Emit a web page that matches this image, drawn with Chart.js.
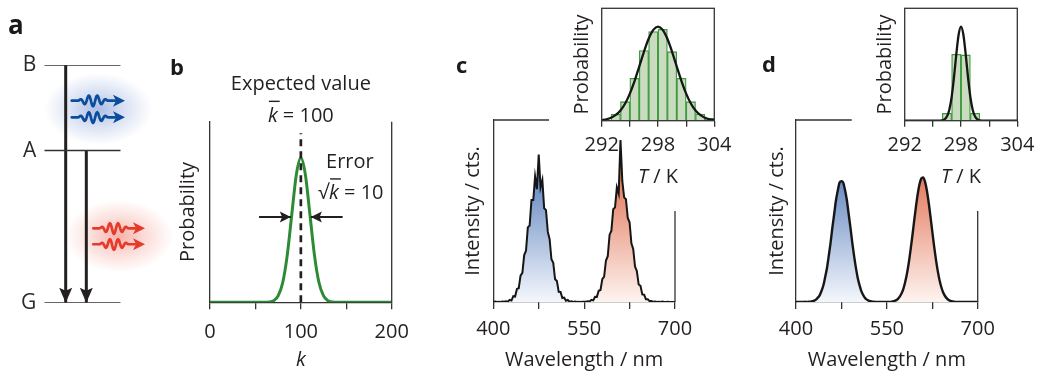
<!DOCTYPE html>
<html>
<head>
<meta charset="utf-8">
<script src="https://cdn.jsdelivr.net/npm/chart.js@4.4.0/dist/chart.umd.min.js"></script>
<style>
  html, body { margin: 0; padding: 0; background: #fff; }
  #figure { position: relative; width: 1048px; height: 377px; overflow: hidden; }
  #figure canvas { position: absolute; left: 0; top: 0; }
</style>
</head>
<body>
<div id="figure">
  <canvas id="panelA" width="1048" height="377"></canvas>
  <canvas id="panelB" width="1048" height="377"></canvas>
  <canvas id="panelC" width="1048" height="377"></canvas>
  <canvas id="insetC" width="1048" height="377"></canvas>
  <canvas id="panelD" width="1048" height="377"></canvas>
  <canvas id="insetD" width="1048" height="377"></canvas>
</div>
<script>
// ---- a: level scheme ----
const levelNames = ['G', 'A', 'B'];
const levelEnergy = [0, 0.64, 1];
const transitionX = [0.28, 0.55];
const transitionFrom = [1, 0.64];

// ---- b: Poisson distribution ----
const kValues = [0, 5, 10, 15, 20, 25, 30, 35, 40, 45, 50, 55, 60, 65, 70, 75, 80, 85, 90, 95, 100,
  105, 110, 115, 120, 125, 130, 135, 140, 145, 150, 155, 160, 165, 170, 175, 180, 185, 190, 195, 200];
const kProbability = [0, 0, 0, 0, 0, 0, 0, 0, 0, 0, 0, 0, 0, 0.002, 0.011, 0.044, 0.135, 0.325, 0.607, 0.882, 1,
  0.882, 0.607, 0.325, 0.135, 0.044, 0.011, 0.002, 0, 0, 0, 0, 0, 0, 0, 0, 0, 0, 0, 0, 0];
const kTickLabels = [0, 100, 200];
const kMean = 100;
const errorArrowLeft = [54, 89];
const errorArrowRight = [146, 111];
const errorArrowLevel = 0.59;

// ---- c, d: emission spectra (400-700 nm, 3 nm steps) ----
const wavelengths = Array.from({ length: 101 }, (_, i) => 400 + 3 * i);
const spectrumNoisy = [
  0, 0.002, 0, 0.001, 0, 0.003, 0.001,
  0.004, 0.002, 0.012, 0.008, 0.032, 0.030, 0.072, 0.076, 0.145, 0.160, 0.258, 0.282, 0.410, 0.420,
  0.560, 0.560, 0.690, 0.620, 0.810, 0.630, 0.670, 0.515, 0.505, 0.385, 0.345, 0.235, 0.215, 0.125,
  0.115, 0.056, 0.055, 0.022, 0.024, 0.007, 0.011, 0.002, 0.004,
  0, 0.002, 0, 0.001, 0, 0.001, 0.002, 0.001,
  0.004, 0.003, 0.012, 0.009, 0.029, 0.028, 0.062, 0.066, 0.126, 0.139, 0.228, 0.252, 0.370, 0.392,
  0.510, 0.520, 0.630, 0.595, 0.890, 0.665, 0.575, 0.565, 0.462, 0.438, 0.322, 0.292, 0.195, 0.170,
  0.096, 0.089, 0.042, 0.040, 0.015, 0.015, 0.005, 0.006, 0.001, 0.003,
  0, 0.001, 0, 0.002, 0, 0, 0.001, 0, 0, 0, 0
];
const spectrumSmooth = [
  0, 0, 0, 0, 0, 0.001, 0, 0.001,
  0.002, 0.004, 0.008, 0.013, 0.024, 0.036, 0.060, 0.089, 0.134, 0.184, 0.252, 0.323, 0.407, 0.482,
  0.559, 0.613, 0.657, 0.664, 0.656, 0.614, 0.559, 0.482, 0.406, 0.324, 0.251, 0.186, 0.131, 0.091,
  0.058, 0.038, 0.022, 0.013, 0.008, 0.004, 0.002, 0.001,
  0, 0, 0, 0, 0, 0, 0, 0,
  0.001, 0.003, 0.005, 0.009, 0.016, 0.028, 0.045, 0.070, 0.106, 0.152, 0.211, 0.282, 0.360, 0.443,
  0.523, 0.594, 0.648, 0.679, 0.685, 0.661, 0.614, 0.548, 0.470, 0.388, 0.307, 0.234, 0.171, 0.120,
  0.081, 0.052, 0.033, 0.020, 0.011, 0.006, 0.003, 0.002,
  0, 0, 0, 0, 0, 0, 0, 0, 0, 0, 0, 0, 0
];
const blueRedSplit = 47; // index where the blue band hands over to the red band
const wavelengthTicks = [400, 550, 700];

// ---- insets: temperature histograms ----
const tempBinsNoisy = [293.5, 294.5, 295.5, 296.5, 297.5, 298.5, 299.5, 300.5, 301.5, 302.5, 303.5];
const tempCountsNoisy = [0.067, 0.202, 0.450, 0.745, 0.947, 0.972, 0.734, 0.450, 0.202, 0.071, 0.025];
const fitTNoisy = [292, 292.5, 293, 293.5, 294, 294.5, 295, 295.5, 296, 296.5, 297, 297.5, 298,
  298.5, 299, 299.5, 300, 300.5, 301, 301.5, 302, 302.5, 303, 303.5, 304];
const fitNoisy = [0.007, 0.015, 0.031, 0.061, 0.109, 0.183, 0.288, 0.421, 0.575, 0.732, 0.871, 0.966, 1,
  0.966, 0.871, 0.732, 0.575, 0.421, 0.288, 0.183, 0.109, 0.061, 0.031, 0.015, 0.007];
const tempBinsSmooth = [296.5, 297.5, 298.5, 299.5];
const tempCountsSmooth = [0.078, 0.706, 0.699, 0.078];
const fitTSmooth = [292, 295.5, 296, 296.25, 296.5, 296.75, 297, 297.25, 297.5, 297.75, 298,
  298.25, 298.5, 298.75, 299, 299.25, 299.5, 299.75, 300, 300.5, 304];
const fitSmooth = [0, 0, 0.004, 0.014, 0.044, 0.114, 0.249, 0.458, 0.707, 0.917, 1,
  0.917, 0.707, 0.458, 0.249, 0.114, 0.044, 0.014, 0.004, 0, 0];
const tempTicks = [292, 298, 304];

const ink = '#231f20';
const axisInk = '#333333';
const FONT = '"Open Sans", "Liberation Sans", sans-serif';
Chart.defaults.font.family = FONT;
Chart.defaults.font.size = 20;
Chart.defaults.color = ink;

const xy = (xs, ys) => xs.map((x, i) => ({ x: x, y: ys[i] }));

// text with mixed italic parts, optional bar over a part
function drawParts(ctx, parts, cx, baseline, size) {
  const fontOf = p => (p.italic ? 'italic ' : '') + size + 'px ' + FONT;
  let total = 0;
  const widths = parts.map(p => { ctx.font = fontOf(p); const w = ctx.measureText(p.t).width; total += w; return w; });
  let x = cx - total / 2;
  ctx.save();
  ctx.fillStyle = ink; ctx.strokeStyle = ink;
  ctx.textAlign = 'left'; ctx.textBaseline = 'alphabetic';
  parts.forEach((p, i) => {
    ctx.font = fontOf(p);
    ctx.fillText(p.t, x, baseline);
    if (p.bar) {
      ctx.lineWidth = 1.4;
      ctx.beginPath();
      ctx.moveTo(x + 1, baseline - 20.5);
      ctx.lineTo(x + widths[i] + 2, baseline - 20.5);
      ctx.stroke();
    }
    x += widths[i];
  });
  ctx.restore();
}

const panelLetter = {
  id: 'panelLetter',
  afterDraw(chart, args, opts) {
    const ctx = chart.ctx;
    ctx.save();
    ctx.font = 'bold ' + opts.size + 'px ' + FONT;
    ctx.fillStyle = '#1a1a1a';
    ctx.textAlign = 'left'; ctx.textBaseline = 'alphabetic';
    ctx.fillText(opts.text, opts.x, opts.y);
    ctx.restore();
  }
};

const notes = {
  id: 'notes',
  afterDraw(chart, args, opts) {
    const { x, y } = chart.scales;
    (opts.items || []).forEach(n => {
      drawParts(chart.ctx, n.parts, x.getPixelForValue(n.x), y.getPixelForValue(n.y), 20);
    });
  }
};

const xTitleParts = {
  id: 'xTitleParts',
  afterDraw(chart, args, opts) {
    if (!opts.parts) return;
    const a = chart.chartArea;
    drawParts(chart.ctx, opts.parts, (a.left + a.right) / 2, a.bottom + opts.offset, 20);
  }
};

const arrowHeads = {
  id: 'arrowHeads',
  afterDatasetsDraw(chart) {
    const ctx = chart.ctx;
    chart.data.datasets.forEach((ds, i) => {
      if (!ds.head) return;
      const pts = chart.getDatasetMeta(i).data;
      const a = pts[pts.length - 2], b = pts[pts.length - 1];
      const ang = Math.atan2(b.y - a.y, b.x - a.x);
      ctx.save();
      ctx.translate(b.x, b.y);
      ctx.rotate(ang);
      ctx.fillStyle = ds.borderColor;
      ctx.beginPath();
      ctx.moveTo(0, 0);
      ctx.lineTo(-ds.head.len, -ds.head.half);
      ctx.lineTo(-ds.head.len * 0.8, 0);
      ctx.lineTo(-ds.head.len, ds.head.half);
      ctx.closePath();
      ctx.fill();
      ctx.restore();
    });
  }
};

const partialFrame = {
  id: 'partialFrame',
  afterDraw(chart, args, opts) {
    if (opts.topEnd === undefined) return;
    const { ctx, chartArea: a, scales: { x, y } } = chart;
    ctx.save();
    ctx.strokeStyle = axisInk; ctx.lineWidth = 1.3;
    ctx.beginPath();
    ctx.moveTo(a.left, a.top); ctx.lineTo(x.getPixelForValue(opts.topEnd), a.top);
    ctx.moveTo(a.right, y.getPixelForValue(opts.rightStart)); ctx.lineTo(a.right, a.bottom);
    ctx.stroke();
    ctx.restore();
  }
};

const boxFrame = {
  id: 'boxFrame',
  afterDraw(chart, args, opts) {
    if (!opts.on) return;
    const { ctx, chartArea: a } = chart;
    ctx.save();
    ctx.strokeStyle = axisInk; ctx.lineWidth = 1.3;
    ctx.strokeRect(a.left, a.top, a.right - a.left, a.bottom - a.top);
    ctx.restore();
  }
};

function wavyArrow(ctx, x0, x1, y, color) {
  const len = x1 - x0, head = 12;
  const w0 = x0 + 0.12 * len, w1 = x0 + 0.68 * len, hb = x1 - head;
  ctx.strokeStyle = color; ctx.fillStyle = color;
  ctx.lineWidth = 2.7; ctx.lineJoin = 'round'; ctx.lineCap = 'round';
  ctx.beginPath();
  ctx.moveTo(x0, y); ctx.lineTo(w0, y);
  for (let s = 0; s <= 1.0001; s += 0.02) {
    ctx.lineTo(w0 + s * (w1 - w0), y - 5.6 * Math.sin(Math.PI * s) * Math.sin(2 * Math.PI * 3.5 * s));
  }
  ctx.lineTo(hb + 2, y);
  ctx.stroke();
  ctx.beginPath();
  ctx.moveTo(x1, y); ctx.lineTo(hb, y - 6); ctx.lineTo(hb + 3, y); ctx.lineTo(hb, y + 6);
  ctx.closePath(); ctx.fill();
}

const photons = {
  id: 'photons',
  beforeDatasetsDraw(chart, args, opts) {
    const { ctx, scales: { x, y } } = chart;
    opts.items.forEach(p => {
      const cx = x.getPixelForValue((p.x0 + p.x1) / 2);
      const cy = y.getPixelForValue((p.ys[0] + p.ys[1]) / 2);
      ctx.save();
      ctx.translate(cx, cy); ctx.scale(1.5, 1);
      const g = ctx.createRadialGradient(0, 0, 0, 0, 0, 36);
      g.addColorStop(0, 'rgba(' + p.glow + ',0.45)');
      g.addColorStop(0.45, 'rgba(' + p.glow + ',0.22)');
      g.addColorStop(1, 'rgba(' + p.glow + ',0)');
      ctx.fillStyle = g;
      ctx.beginPath(); ctx.arc(0, 0, 36, 0, Math.PI * 2); ctx.fill();
      ctx.restore();
    });
  },
  afterDatasetsDraw(chart, args, opts) {
    const { ctx, scales: { x, y } } = chart;
    opts.items.forEach(p => {
      p.ys.forEach(v => {
        ctx.save();
        wavyArrow(ctx, x.getPixelForValue(p.x0), x.getPixelForValue(p.x1), y.getPixelForValue(v), p.color);
        ctx.restore();
      });
    });
  }
};

Chart.register(panelLetter, notes, xTitleParts, arrowHeads, partialFrame, boxFrame);

const base = {
  responsive: false,
  animation: false,
  devicePixelRatio: 1,
  events: [],
  plugins: { legend: { display: false }, tooltip: { enabled: false } }
};

function tickAxis(min, max, step, labels, tickPad, tickLen, height, title) {
  return {
    type: 'linear', min: min, max: max, offset: false,
    ticks: { stepSize: step, autoSkip: false, maxRotation: 0, padding: tickPad,
      callback: v => labels.includes(v) ? String(v) : '' },
    grid: { display: true, drawOnChartArea: false, drawTicks: true, tickLength: tickLen,
      color: axisInk, lineWidth: 1.3, offset: false },
    border: { display: true, color: axisInk, width: 1.3 },
    title: title ? Object.assign({ display: true, padding: 0, color: ink }, title) : { display: false },
    afterFit: s => { s.height = height; }
  };
}

function plainYAxis(max, width, title, border) {
  return {
    type: 'linear', min: 0, max: max,
    ticks: { display: false },
    grid: { display: false },
    border: { display: border, color: axisInk, width: 1.3 },
    title: { display: true, text: title, padding: 0, color: ink },
    afterFit: s => { s.width = width; }
  };
}

// ---- panel a ----
new Chart(document.getElementById('panelA'), {
  type: 'line',
  data: {
    datasets: [
      ...levelEnergy.map(e => ({ data: [{ x: 0, y: e }, { x: 1, y: e }], borderColor: axisInk, borderWidth: 1.5, pointRadius: 0 })),
      ...transitionX.map((tx, i) => ({ data: [{ x: tx, y: transitionFrom[i] }, { x: tx, y: levelEnergy[0] }],
        borderColor: ink, borderWidth: 3, pointRadius: 0, head: { len: 15, half: 6.5 } }))
    ]
  },
  options: Object.assign({}, base, {
    layout: { padding: { left: 0, top: 65, right: 927.3, bottom: 74.3 } },
    scales: {
      x: { type: 'linear', min: 0, max: 1, display: false },
      y: {
        type: 'linear', min: 0, max: 1,
        afterBuildTicks: s => { s.ticks = levelEnergy.map(v => ({ value: v })); },
        ticks: { padding: 8, font: { size: 21 }, color: '#2a2a2a', callback: v => levelNames[levelEnergy.indexOf(v)] },
        grid: { display: false, drawTicks: false },
        border: { display: false },
        afterFit: s => { s.width = 44.3; }
      }
    },
    plugins: Object.assign({}, base.plugins, {
      panelLetter: { text: 'a', x: 8, y: 34, size: 26 },
      photons: { items: [
        { color: '#0b4c9c', glow: '70,110,195', x0: 0.359, x1: 1.056, ys: [0.85, 0.78] },
        { color: '#e53a2c', glow: '235,85,65', x0: 0.641, x1: 1.318, ys: [0.313, 0.246] }
      ] }
    })
  }),
  plugins: [photons]
});

// ---- panel b ----
new Chart(document.getElementById('panelB'), {
  type: 'line',
  data: {
    datasets: [
      { data: [{ x: kMean, y: 0 }, { x: kMean, y: 1.17 }], borderColor: ink, borderWidth: 2.7, borderDash: [7, 5], pointRadius: 0 },
      { data: [{ x: errorArrowLeft[0], y: errorArrowLevel }, { x: errorArrowLeft[1], y: errorArrowLevel }],
        borderColor: ink, borderWidth: 2, pointRadius: 0, head: { len: 11, half: 5.5 } },
      { data: [{ x: errorArrowRight[0], y: errorArrowLevel }, { x: errorArrowRight[1], y: errorArrowLevel }],
        borderColor: ink, borderWidth: 2, pointRadius: 0, head: { len: 11, half: 5.5 } },
      { data: xy(kValues, kProbability), borderColor: '#2e8b35', borderWidth: 3, pointRadius: 0, cubicInterpolationMode: 'monotone' }
    ]
  },
  options: Object.assign({}, base, {
    layout: { padding: { left: 176, top: 121.7, right: 656.3, bottom: 5 } },
    scales: {
      x: tickAxis(0, 200, 50, kTickLabels, 11, 7, 69.7, { text: 'k', font: { size: 20, style: 'italic' } }),
      y: plainYAxis(1.25, 34, 'Probability', true)
    },
    plugins: Object.assign({}, base.plugins, {
      panelLetter: { text: 'b', x: 170, y: 75, size: 22 },
      partialFrame: { topEnd: 0, rightStart: 1.25 },
      notes: { items: [
        { x: 100, y: 1.468, parts: [{ t: 'Expected value' }] },
        { x: 100, y: 1.249, parts: [{ t: 'k', italic: true, bar: true }, { t: ' = 100' }] },
        { x: 154, y: 0.927, parts: [{ t: 'Error' }] },
        { x: 155, y: 0.712, parts: [{ t: '\u221A' }, { t: 'k', italic: true, bar: true }, { t: ' = 10' }] }
      ] }
    })
  })
});

// ---- panels c and d: spectra ----
function fade(top, bottom) {
  return c => {
    const chart = c.chart;
    if (!chart.chartArea) return top;
    const y = chart.scales.y;
    const g = chart.ctx.createLinearGradient(0, y.getPixelForValue(0.7), 0, y.getPixelForValue(0));
    g.addColorStop(0, top);
    g.addColorStop(1, bottom);
    return g;
  };
}

function spectrumChart(id, values, pad, yWidth, letter, lineWidth, smooth) {
  const pts = xy(wavelengths, values);
  return new Chart(document.getElementById(id), {
    type: 'line',
    data: {
      datasets: [
        { data: pts, borderColor: '#161616', borderWidth: lineWidth, pointRadius: 0,
          cubicInterpolationMode: smooth ? 'monotone' : 'default', tension: 0 },
        { data: pts.slice(0, blueRedSplit + 1), borderWidth: 0, pointRadius: 0, fill: 'origin',
          backgroundColor: fade('#6286c0', '#f4f7fc'), cubicInterpolationMode: smooth ? 'monotone' : 'default' },
        { data: pts.slice(blueRedSplit), borderWidth: 0, pointRadius: 0, fill: 'origin',
          backgroundColor: fade('#e3785b', '#fdf4f0'), cubicInterpolationMode: smooth ? 'monotone' : 'default' }
      ]
    },
    options: Object.assign({}, base, {
      layout: { padding: pad },
      scales: {
        x: tickAxis(400, 700, 75, wavelengthTicks, 8, 7, 70, { text: 'Wavelength / nm' }),
        y: plainYAxis(1, yWidth, 'Intensity / cts.', true)
      },
      plugins: Object.assign({}, base.plugins, {
        panelLetter: letter,
        partialFrame: { topEnd: 492, rightStart: 0.5 }
      })
    })
  });
}

spectrumChart('panelC', spectrumNoisy, { left: 461.3, top: 120, right: 373, bottom: 5 }, 32,
  { text: 'c', x: 456, y: 73.3, size: 22 }, 2.0, false);
spectrumChart('panelD', spectrumSmooth, { left: 765.5, top: 120, right: 70.3, bottom: 5 }, 30.5,
  { text: 'd', x: 762, y: 71.7, size: 22 }, 2.4, true);

// ---- insets: temperature histograms ----
function histogramChart(id, bins, counts, fitT, fit, pad, yWidth) {
  return new Chart(document.getElementById(id), {
    type: 'bar',
    data: {
      datasets: [
        { type: 'line', data: xy(fitT, fit), borderColor: '#161616', borderWidth: 2.3, pointRadius: 0,
          cubicInterpolationMode: 'monotone' },
        { type: 'bar', data: xy(bins, counts), backgroundColor: '#cadcbf', borderColor: '#3f9b3f',
          borderWidth: 1.3, barPercentage: 1, categoryPercentage: 1 }
      ]
    },
    options: Object.assign({}, base, {
      layout: { padding: pad },
      scales: {
        x: Object.assign(tickAxis(292, 304, 3, tempTicks, 6.8, 6, 66.8, null), { border: { display: false } }),
        y: plainYAxis(1.195, yWidth, 'Probability', false)
      },
      plugins: Object.assign({}, base.plugins, {
        boxFrame: { on: true },
        xTitleParts: { parts: [{ t: 'T', italic: true }, { t: ' / K' }], offset: 62.3 }
      })
    })
  });
}

histogramChart('insetC', tempBinsNoisy, tempCountsNoisy, fitTNoisy, fitNoisy,
  { left: 570.5, top: 8.3, right: 333.7, bottom: 189.5 }, 31.2);
histogramChart('insetD', tempBinsSmooth, tempCountsSmooth, fitTSmooth, fitSmooth,
  { left: 873, top: 8.3, right: 30.7, bottom: 189.5 }, 31.7);
</script>
</body>
</html>
